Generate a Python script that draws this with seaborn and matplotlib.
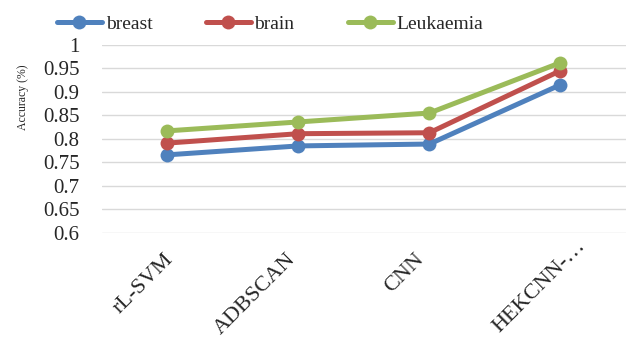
import matplotlib
matplotlib.use("Agg")
import matplotlib.pyplot as plt
import matplotlib.transforms as mtransforms
import seaborn as sns
import pandas as pd

methods = ["rL-SVM", "ADBSCAN", "CNN", "HEKCNN-…"]
breast = [0.766, 0.785, 0.789, 0.915]
brain = [0.791, 0.811, 0.813, 0.945]
leukaemia = [0.817, 0.836, 0.855, 0.962]
series_names = ["breast", "brain", "Leukaemia"]
colors = ["#4F81BD", "#C0504D", "#9BBB59"]
yticks = [0.6, 0.65, 0.7, 0.75, 0.8, 0.85, 0.9, 0.95, 1.0]
ytick_labels = ["0.6", "0.65", "0.7", "0.75", "0.8", "0.85", "0.9", "0.95", "1"]

rows = []
for name, vals in zip(series_names, [breast, brain, leukaemia]):
    for i, (m, v) in enumerate(zip(methods, vals)):
        rows.append({"idx": i, "method": m, "series": name, "value": v})
df = pd.DataFrame(rows)

sns.set_theme(style="white")
plt.rcParams["font.family"] = ["Liberation Serif", "DejaVu Serif"]

fig = plt.figure(figsize=(6.29, 3.45), dpi=100)
ax = fig.add_axes([0.162, 0.325, 0.833, 0.545])

sns.lineplot(data=df, x="idx", y="value", hue="series", palette=colors,
             marker="o", markersize=10, markeredgewidth=0, linewidth=3.6,
             ax=ax, legend=True, clip_on=False)

ax.set_ylim(0.6, 1.0)
ax.set_xlim(-0.5, 3.5)
ax.set_yticks(yticks)
ax.set_yticklabels(ytick_labels, fontsize=15)
ax.set_xticks(range(len(methods)))
ax.set_xticklabels(methods, fontsize=16, rotation=45, ha="right",
                   va="top", rotation_mode="anchor")
ax.tick_params(axis="both", length=0)
ax.tick_params(axis="y", pad=16)
ax.tick_params(axis="x", pad=12)
xlabels = ax.get_xticklabels()
shifts = [(-4, 0), (-12, 0), (-15, 0), (16, 13)]
for lbl, (dx, dy) in zip(xlabels, shifts):
    off = mtransforms.ScaledTranslation(dx / 100, dy / 100, fig.dpi_scale_trans)
    lbl.set_transform(lbl.get_transform() + off)
ax.yaxis.grid(True, color="#D9D9D9", linewidth=1)
ax.xaxis.grid(False)
for s in ax.spines.values():
    s.set_visible(False)
ax.set_xlabel("")
ax.set_ylabel("Accuracy (%)", fontsize=8.5)
ax.yaxis.set_label_coords(-0.14, 0.72)

handles, labels = ax.get_legend_handles_labels()
ax.get_legend().remove()
fig.legend(handles, labels, loc="center left", bbox_to_anchor=(0.0906, 0.929),
           ncol=3, frameon=False, fontsize=14, handlelength=2.3,
           handletextpad=0.2, columnspacing=2.75, borderpad=0,
           borderaxespad=0)

fig.savefig("out.png", dpi=100)
